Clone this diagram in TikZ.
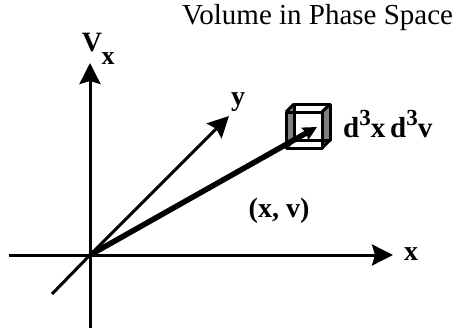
\documentclass[tikz,border=0pt]{standalone}
\usepackage{fontspec}
\setmainfont{Liberation Serif}
\usetikzlibrary{arrows.meta}
\begin{document}
\begin{tikzpicture}[x=1pt,y=-1pt,
  axis/.style={line width=3pt,-{Stealth[length=21pt,width=21pt,inset=3pt]}},
  plain/.style={line width=3pt},
  lbl/.style={font=\fontsize{28}{30}\selectfont\bfseries,inner sep=0pt},
  ttl/.style={font=\fontsize{29}{30}\selectfont,inner sep=0pt},
  cubeedge/.style={line width=3pt,line join=round},
  cubeside/.style={fill=black!50,draw=none},
  radius/.style={line width=5.5pt,-{Stealth[length=14pt,width=14pt,inset=2pt]}}]
\useasboundingbox (0,0) rectangle (458,329);
% axes
\coordinate (O) at (90,255);
\coordinate (vb) at (90,328);
\coordinate (vt) at (90,63);
\coordinate (xl) at (9,255);
\coordinate (xr) at (393,255);
\coordinate (yl) at (52,294);
\coordinate (yt) at (229,116);
\draw[plain] (vb) -- (O);
\draw[axis] (O) -- (vt);
\draw[plain] (xl) -- (O);
\draw[axis] (O) -- (xr);
\draw[plain] (yl) -- (O);
\draw[axis] (O) -- (yt);
% cube
\coordinate (f1) at (286,112);
\coordinate (f2) at (322,112);
\coordinate (f3) at (322,148);
\coordinate (f4) at (286,148);
\coordinate (b1) at (294,104);
\coordinate (b2) at (330,104);
\coordinate (b3) at (330,140);
\coordinate (b4) at (294,140);
\fill[cubeside] (f1) -- (b1) -- (b4) -- (f4) -- cycle;
\fill[cubeside] (f2) -- (b2) -- (b3) -- (f3) -- cycle;
\draw[cubeedge] (b1) -- (b2) -- (b3) -- (b4) -- cycle;
\draw[cubeedge] (f1) -- (f2) -- (f3) -- (f4) -- cycle;
\draw[cubeedge] (f1) -- (b1) (f2) -- (b2) (f3) -- (b3) (f4) -- (b4);
\coordinate (vol) at (317,127);
\draw[radius] (O) -- (vol);
% labels
\node[ttl,anchor=base west] (title) at (182,25) {Volume in Phase Space};
\node[lbl,anchor=base] (V) at (92,52) {V};
\node[lbl,anchor=base,font=\fontsize{26}{28}\selectfont\bfseries] (Vsub) at (108,65) {x};
\node[lbl,anchor=base] (ylab) at (238,106) {y};
\node[lbl,anchor=base] (xlab) at (411,260) {x};
\node[lbl,anchor=base west,font=\fontsize{29}{34}\selectfont\bfseries] (dvol) at (343,137)
  {d\raisebox{12pt}{\fontsize{23}{23}\selectfont 3}x\,d\raisebox{12pt}{\fontsize{23}{23}\selectfont 3}v};
\node[lbl,anchor=base] (pt) at (279,217) {(x, v)};
\end{tikzpicture}
\end{document}
